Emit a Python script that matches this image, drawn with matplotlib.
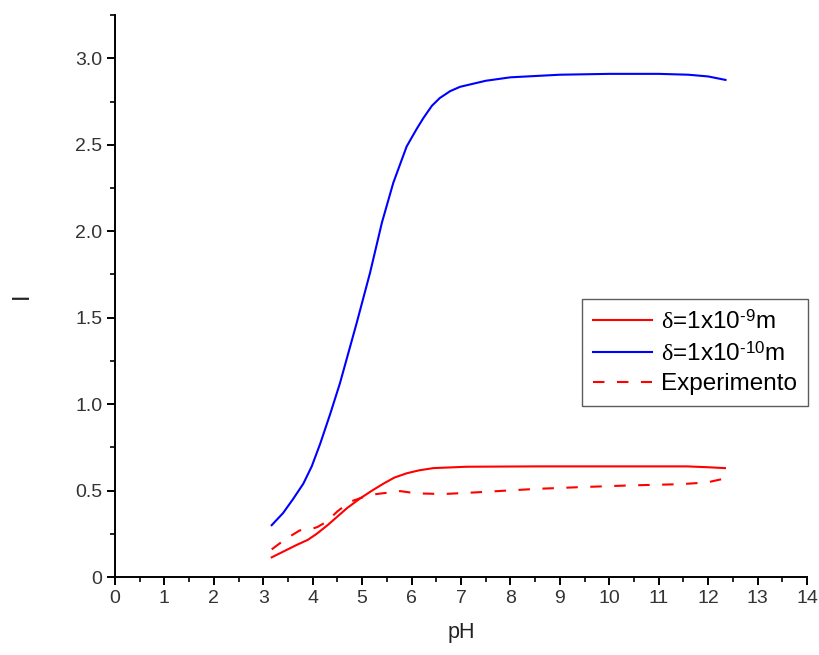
import numpy as np
import matplotlib
matplotlib.use("Agg")
import matplotlib.pyplot as plt
from matplotlib.ticker import MultipleLocator

plt.rcParams['font.family'] = ['Liberation Sans', 'DejaVu Sans']
plt.rcParams['mathtext.fontset'] = 'custom'
plt.rcParams['mathtext.rm'] = 'Liberation Sans'
plt.rcParams['mathtext.it'] = 'Liberation Serif'

# delta = 1e-10 m (blue)
ph_blue = [3.17, 3.4, 3.6, 3.81, 3.98, 4.15, 4.35, 4.55, 4.89, 5.16, 5.40, 5.63, 5.90, 6.10, 6.24, 6.41, 6.57, 6.78, 6.98,
           7.5, 8.0, 9.0, 10.0, 11.0, 11.6, 12.0, 12.35]
i_blue = [0.30, 0.37, 0.45, 0.54, 0.64, 0.77, 0.94, 1.12, 1.47, 1.76, 2.05, 2.28, 2.49, 2.59, 2.655, 2.725, 2.77, 2.81, 2.835,
          2.87, 2.89, 2.905, 2.91, 2.91, 2.905, 2.895, 2.875]

# delta = 1e-9 m (red solid)
ph_red = [3.17, 3.67, 3.9, 4.08, 4.3, 4.48, 4.7, 4.96, 5.2, 5.43, 5.65, 5.9, 6.15, 6.44, 7.12, 8.53, 10.0, 11.57, 12.0, 12.34]
i_red = [0.114, 0.185, 0.215, 0.25, 0.30, 0.345, 0.40, 0.455, 0.50, 0.54, 0.575, 0.60, 0.617, 0.63, 0.638, 0.64, 0.64, 0.64, 0.635, 0.63]

# experiment (red dashed)
ph_exp = [3.17, 3.45, 3.74, 3.95, 4.1, 4.28, 4.5, 4.75, 5.0, 5.29, 5.77, 6.10, 6.64, 7.32, 7.92, 8.53, 9.41, 10.42, 11.43, 11.97, 12.34]
i_exp = [0.16, 0.22, 0.27, 0.275, 0.29, 0.32, 0.38, 0.435, 0.46, 0.48, 0.497, 0.484, 0.48, 0.49, 0.50, 0.51, 0.52, 0.53, 0.537, 0.547, 0.57]

fig = plt.figure(figsize=(8.19, 6.55), dpi=100)
ax = fig.add_axes([0.1404, 0.119, 0.845, 0.858])

ax.plot(ph_red, i_red, color='#ff0000', lw=1.5, label=r'$\delta$=1x10$^{\text{-9}}$m')
ax.plot(ph_blue, i_blue, color='#0000ff', lw=1.5, label=r'$\delta$=1x10$^{\text{-10}}$m')
ax.plot(ph_exp, i_exp, color='#ff0000', lw=1.5, ls=(0, (5.5, 6)), label='Experimento')

ax.set_xlim(0, 14)
ax.set_ylim(0, 3.25)
ax.xaxis.set_major_locator(MultipleLocator(1))
ax.xaxis.set_minor_locator(MultipleLocator(0.5))
ax.yaxis.set_minor_locator(MultipleLocator(0.25))
ax.set_yticks([0, 0.5, 1.0, 1.5, 2.0, 2.5, 3.0])
ax.set_yticklabels(['0', '0.5', '1.0', '1.5', '2.0', '2.5', '3.0'])

for s in ['top', 'right']:
    ax.spines[s].set_visible(False)
for s in ['left', 'bottom']:
    ax.spines[s].set_linewidth(1.4)
ax.tick_params(which='major', direction='out', length=6, width=1.4, labelsize=14,
               colors='black', labelcolor='#333333', pad=3)
ax.tick_params(which='minor', direction='out', length=3.5, width=1.2)

ax.set_xlabel('pH', fontsize=15.5, color='#222222')
ax.set_ylabel('I', fontsize=17, color='#222222')
ax.xaxis.set_label_coords(0.5, -0.08)
ax.yaxis.set_label_coords(-0.118, 0.5)

leg = ax.legend(loc='upper right', bbox_to_anchor=(1.002, 0.495), fontsize=17.5,
                frameon=True, fancybox=False, edgecolor='#333333', handlelength=2.4,
                borderpad=0.45, labelspacing=0.33, handletextpad=0.4, borderaxespad=0)
leg.get_frame().set_linewidth(1.0)

fig.savefig('out.png', dpi=100)
